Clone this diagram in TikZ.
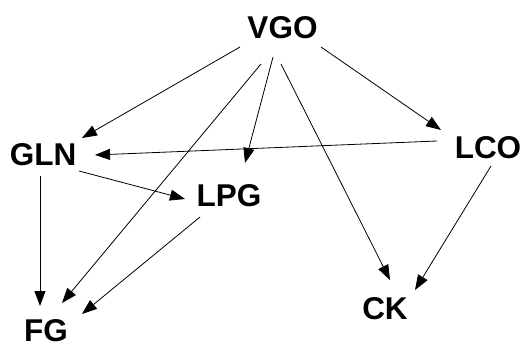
\documentclass[tikz,border=0pt]{standalone}
\usepackage{fontspec}
\setmainfont{Liberation Sans}
\usetikzlibrary{arrows.meta,calc}
\begin{document}
\begin{tikzpicture}[x=1pt,y=-1pt,
  lbl/.style={inner sep=0pt,font=\fontsize{31.5}{33}\selectfont\bfseries},
  edge/.style={line width=0.8pt,-{Triangle[length=15pt,width=11pt]}}]
\useasboundingbox (0,0) rectangle (528,345);
\node[lbl] (VGO) at (282.5,27.5) {VGO};
\node[lbl] (GLN) at (43,155) {GLN};
\node[lbl] (LCO) at (488,148) {LCO};
\node[lbl] (LPG) at (229,196) {LPG};
\node[lbl] (FG)  at (46,330.5) {FG};
\node[lbl] (CK)  at (385,309) {CK};
\draw[edge] ($(VGO)+(-42.5,19.5)$) -- ($(GLN)+(39,-17)$);
\draw[edge] ($(VGO)+(-21.5,36.5)$) -- ($(FG)+(16,-27.5)$);
\draw[edge] ($(VGO)+(-9.5,29.5)$) -- ($(LPG)+(16,-33)$);
\draw[edge] ($(VGO)+(-1.5,36.5)$) -- ($(CK)+(5,-29)$);
\draw[edge] ($(VGO)+(38.5,19.5)$) -- ($(LCO)+(-47,-18)$);
\draw[edge] ($(LCO)+(-51,-7)$) -- ($(GLN)+(52,0)$);
\draw[edge] ($(GLN)+(36,16)$) -- ($(LPG)+(-44,3)$);
\draw[edge] ($(GLN)+(-3,21)$) -- ($(FG)+(-6,-24.5)$);
\draw[edge] ($(LPG)+(-29,21)$) -- ($(FG)+(36,-16.5)$);
\draw[edge] ($(LCO)+(3,18)$) -- ($(CK)+(30,-19)$);
\end{tikzpicture}
\end{document}
